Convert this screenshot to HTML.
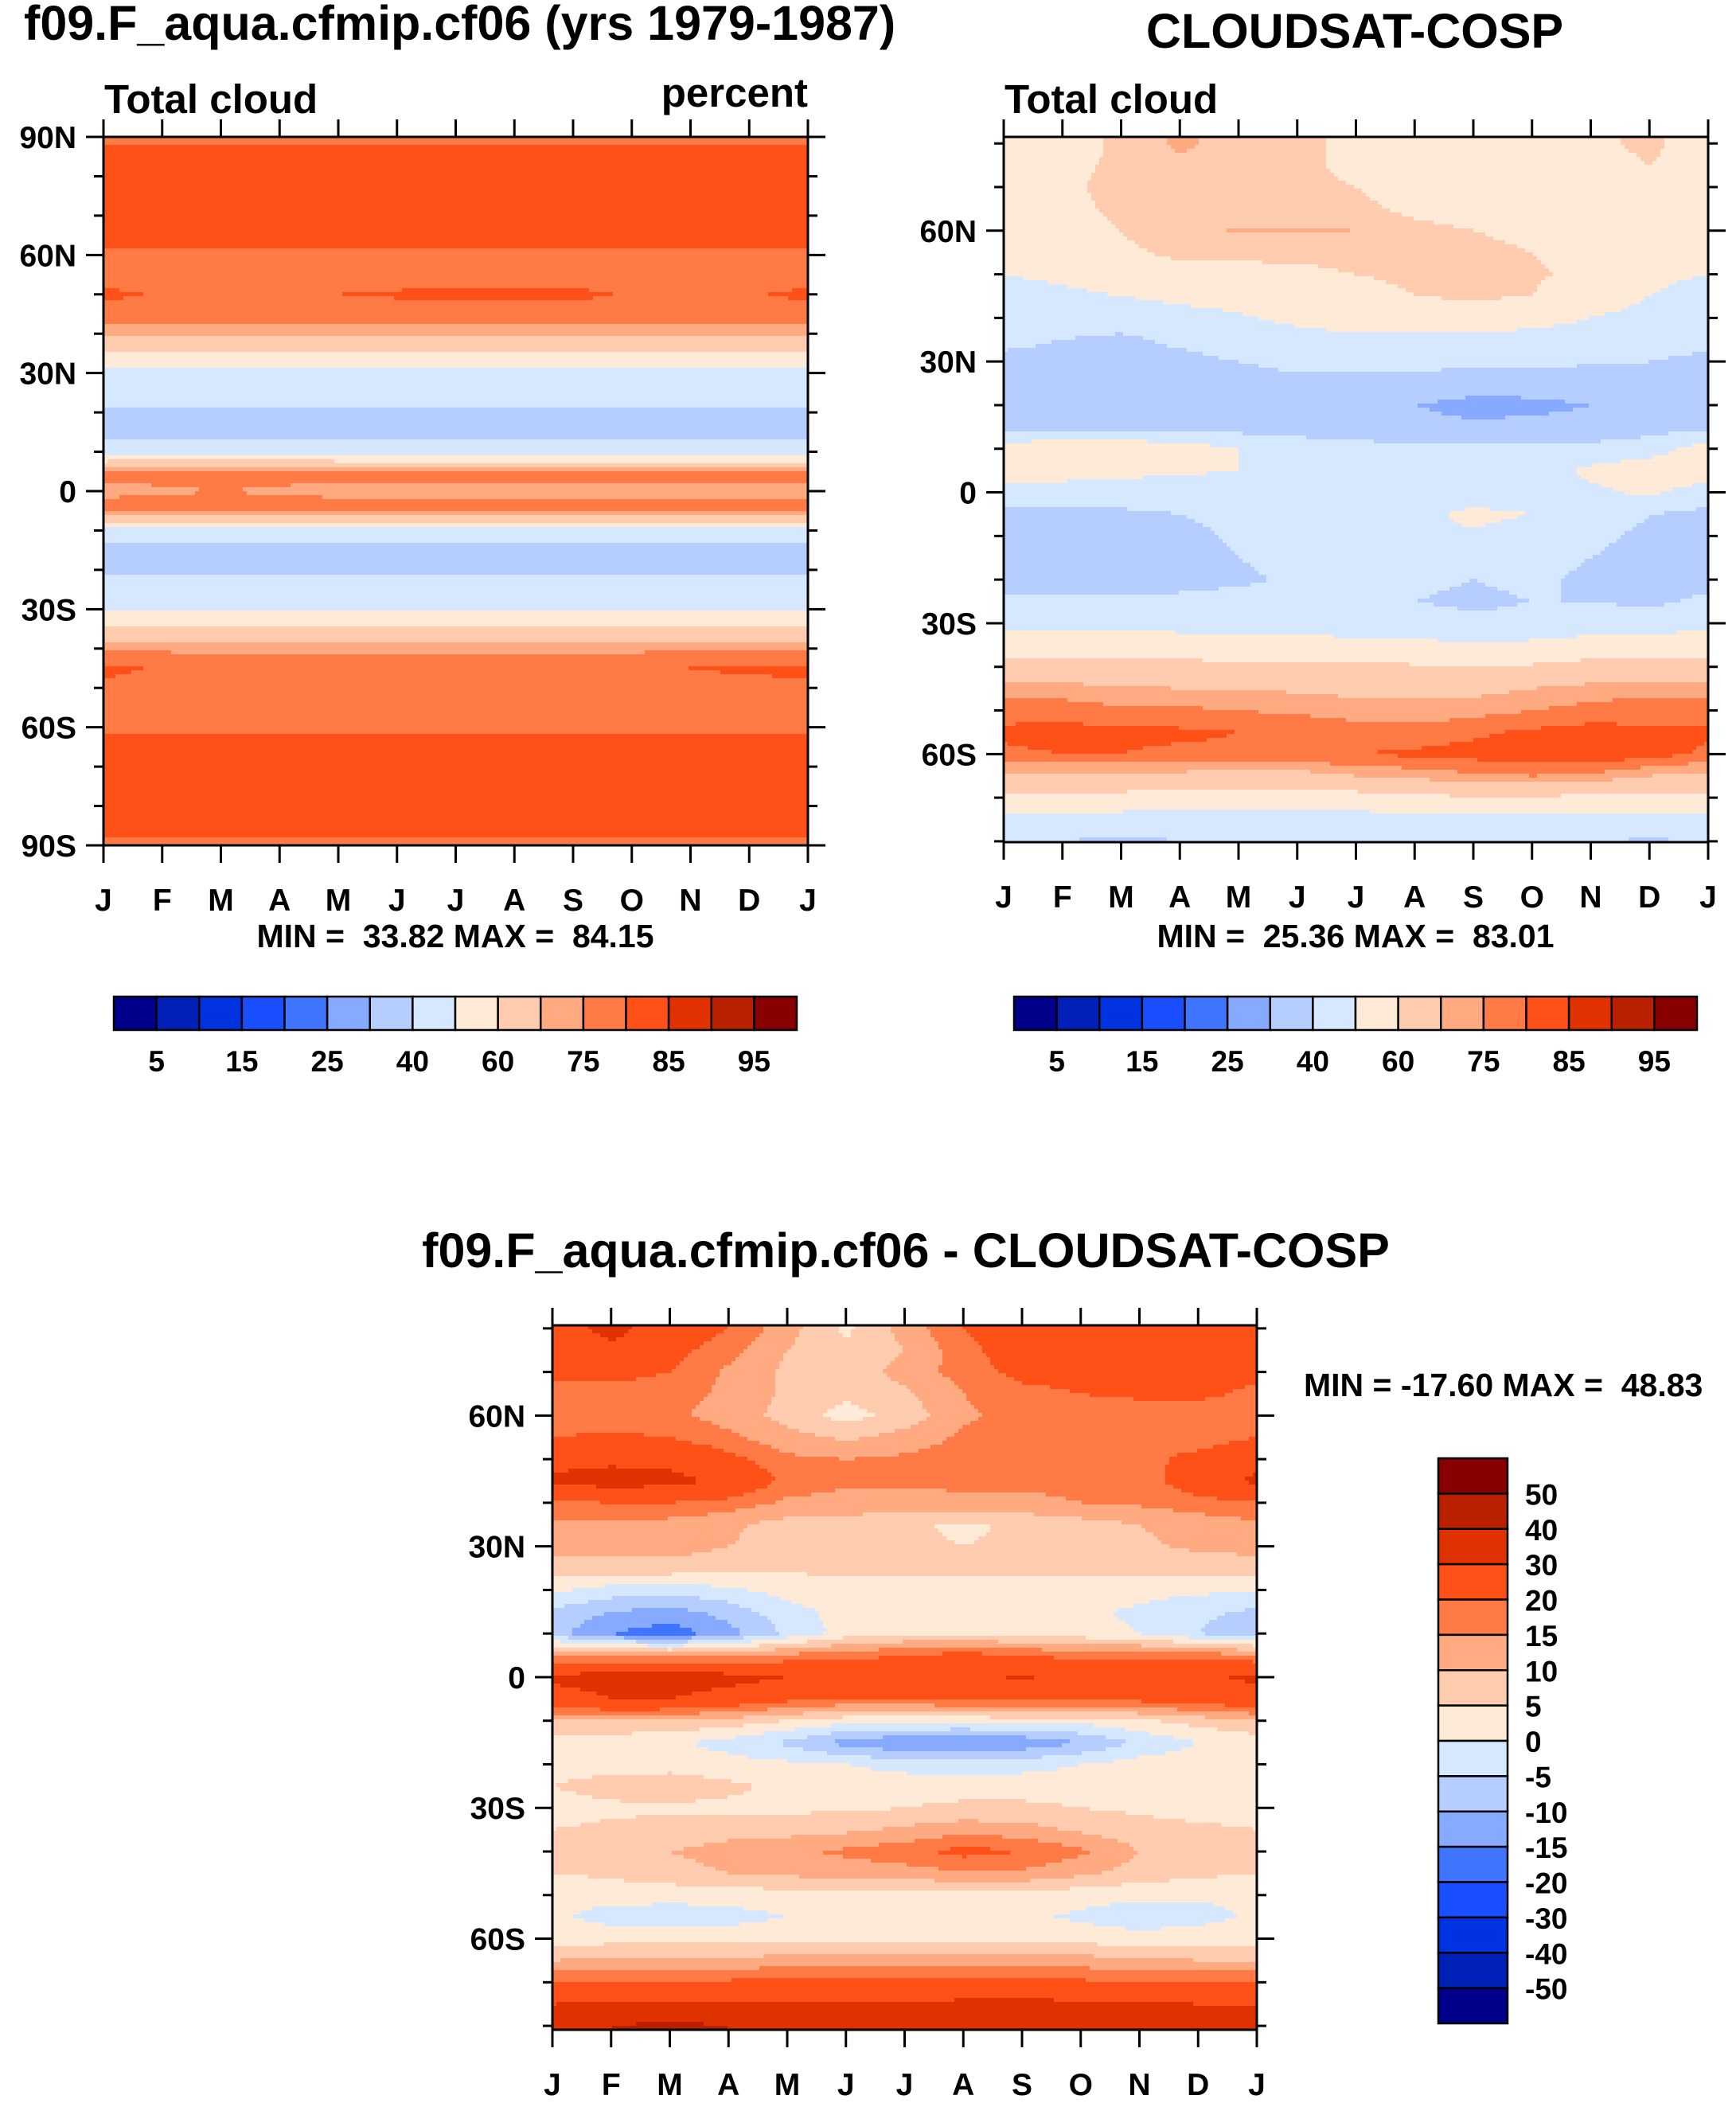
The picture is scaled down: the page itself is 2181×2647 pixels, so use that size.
<!DOCTYPE html>
<html><head><meta charset="utf-8"><style>
html,body{margin:0;padding:0;background:#fff;}
svg{display:block;font-family:"Liberation Sans",Arial,sans-serif;font-weight:bold;}
text{white-space:pre;}
</style></head><body>
<svg id="fig" xmlns="http://www.w3.org/2000/svg" width="2181" height="2647" viewBox="0 0 2181 2647">
<rect width="2181" height="2647" fill="#fff"/>
<text x="30" y="50" font-size="61">f09.F_aqua.cfmip.cf06 (yrs 1979-1987)</text>
<text x="1702" y="60" font-size="61" text-anchor="middle">CLOUDSAT-COSP</text>
<text x="1138" y="1592" font-size="61" text-anchor="middle">f09.F_aqua.cfmip.cf06 - CLOUDSAT-COSP</text>
<text x="131" y="142" font-size="51">Total cloud</text>
<text x="1015" y="134" font-size="51" text-anchor="end">percent</text>
<text x="1262" y="142" font-size="51">Total cloud</text>
<text x="572" y="1190" font-size="41" text-anchor="middle">MIN =  33.82 MAX =  84.15</text>
<text x="1703" y="1190" font-size="41" text-anchor="middle">MIN =  25.36 MAX =  83.01</text>
<text x="1638" y="1754" font-size="41">MIN = -17.60 MAX =  48.83</text>
<g id="layer"></g>
</svg>
<script>
// ---------- data ----------
const months = ['J','F','M','A','M','J','J','A','S','O','N','D','J'];
const absLevels = [5,10,15,20,25,30,40,50,60,70,75,80,85,90,95];
const absTickLabels = ['5','15','25','40','60','75','85','95'];
const diffLevels = [-50,-40,-30,-20,-15,-10,-5,0,5,10,15,20,30,40,50];
const diffTickLabels = ['50','40','30','20','15','10','5','0','-5','-10','-15','-20','-30','-40','-50'];
const palette = ['#00008B','#0020B8','#0033E0','#1A4FFF','#3F75FF','#85AAFF','#B5CEFF','#D6E8FF','#FFEAD8','#FFCCB0','#FFAA80','#FF7A45','#FF5018','#E03200','#B82000','#880000'];

// model total cloud: rows 90N..90S every 5 deg, cols J,M,M,J,S,N,J
const modelLats = [90,85,80,75,70,65,60,55,50,45,40,35,30,25,20,15,10,5,0,-5,-10,-15,-20,-25,-30,-35,-40,-45,-50,-55,-60,-65,-70,-75,-80,-85,-90];
const modelValues = [
[78,78,78,78,78,78,78],[82,82,82,82,82,82,82],[83,83,83,83,83,83,83],[83,83,83,83,83,83,83],
[83,83,83,83,83,83,83],[82,82,82,82,82,82,82],[79,79,79,79,79,79,79],[78,78,78,78,78,78,78],
[81,78,80,81,81,78,81],[78,78,78,78,78,78,78],[73,73,73,73,73,73,73],[58,58,58,58,58,58,58],
[47,47,47,47,47,47,47],[45,45,45,45,45,45,45],[38,38,38,38,38,38,38],[37,37,37,37,37,37,37],
[45,45,45,45,45,45,45],[76,77,76,76,76,76,76],[74,75,74,74,74,74,74],[77,77,77,77,77,77,77],
[45,45,45,45,45,45,45],[37,37,37,37,37,37,37],[38,38,38,38,38,38,38],[45,45,45,45,45,45,45],
[50,50,50,50,50,50,50],[62,62,62,62,62,62,62],[74,74,74,74,74,74,74],[81,78,78,78,78,80,81],
[79,79,79,79,79,79,79],[78,78,78,78,78,78,78],[79,79,79,79,79,79,79],[82,82,82,82,82,82,82],
[83,83,83,83,83,83,83],[83,83,83,83,83,83,83],[83,83,83,83,83,83,83],[82,82,82,82,82,82,82],[78,78,78,78,78,78,78]];

// CloudSat: rows 80N..80S every 5 deg, monthly cols J..J
const obsLats = [80,75,70,65,60,55,50,45,40,35,30,25,20,15,10,5,0,-5,-10,-15,-20,-25,-30,-35,-40,-45,-50,-55,-60,-65,-70,-75,-80];
const obsValues = [
[55,55,62,72,66,62,58,56,56,56,58,62,55],[55,57,62,68,64,62,58,55,55,55,56,60,55],
[55,58,63,64,63,62,60,56,56,56,55,56,55],[55,57,62,63,64,63,62,58,57,56,55,55,55],
[54,56,60,66,71,71,70,62,60,58,56,54,54],[52,55,58,62,63,62,63,62,62,60,58,53,52],
[50,52,55,56,56,58,60,61,62,61,58,52,50],[46,48,50,52,53,55,58,60,61,60,55,50,46],
[45,44,45,47,49,52,54,55,56,54,50,47,45],[42,40,38,42,46,47,48,47,47,46,45,44,42],
[38,37,36,37,40,42,43,44,43,42,41,40,38],[36,36,36,36,37,38,37,35,33,34,35,36,36],
[35,35,35,35,35,34,33,30,28,28,30,35,35],[38,37,37,37,36,35,34,32,31,32,33,36,38],
[55,58,58,55,50,46,44,42,42,42,43,45,55],[58,56,54,52,50,48,47,45,44,45,52,57,58],
[44,44,43,42,42,44,45,46,45,46,48,52,44],[38,38,39,40,42,44,45,48,52,50,46,40,38],
[37,37,37,38,41,44,46,47,49,46,42,38,37],[36,36,36,36,40,43,45,46,46,44,40,37,36],
[37,37,37,37,38,42,44,42,40,42,38,36,37],[42,42,42,42,44,45,46,40,38,40,40,38,42],
[48,48,47,47,47,47,46,45,42,43,45,45,48],[55,55,55,54,54,53,52,52,51,52,54,55,55],
[64,64,63,63,62,62,62,61,60,61,63,64,64],[72,72,71,70,70,69,68,68,68,70,72,73,72],
[78,78,76,76,75,74,73,72,73,75,77,78,78],[81,82,81,81,80,79,77,77,79,81,82,81,81],
[79,80,80,79,79,80,80,81,82,84,84,82,79],[68,68,68,68,67,67,70,72,74,75,74,70,68],
[57,57,57,56,55,55,56,58,59,59,58,57,57],[46,46,46,45,45,45,46,47,47,46,46,46,46],
[42,40,38,40,43,44,44,44,44,44,42,38,42]];

// difference: rows 80N..80S every 5 deg, monthly cols
const diffLats = obsLats.slice();
const diffValues = [
[25,33,25,20,12,4,12,20,25,25,25,25,25],[24,28,22,17,10,6,10,18,24,25,25,25,24],
[22,22,20,14,9,7,12,17,22,23,24,24,22],[18,18,17,14,9,6,9,15,18,20,21,22,18],
[17,17,16,13,8,3,7,14,17,18,17,15,17],[20,21,20,16,12,9,12,16,18,18,18,17,20],
[27,28,27,22,16,15,16,17,17,17,18,22,27],[32,34,33,28,18,16,16,16,16,16,17,24,32],
[19,20,20,18,14,13,13,14,14,15,16,18,19],[14,14,13,11,8,8,6,4,6,8,10,12,14],
[12,12,12,10,8,7,6,5,6,7,9,11,12],[7,8,8,7,6,6,6,6,6,6,7,7,7],
[1,-2,-3,-1,2,3,3,3,3,3,2,1,1],[-6,-10,-12,-8,-2,2,3,3,2,1,-1,-4,-6],
[-8,-15,-18,-12,-4,2,4,4,3,2,0,-5,-8],[15,14,13,14,16,18,20,22,20,18,18,18,15],
[32,34,35,33,30,29,26,28,31,27,27,28,32],[26,30,30,26,22,20,20,21,22,22,22,24,26],
[10,10,9,8,5,2,2,2,2,2,4,7,10],[2,2,1,-2,-6,-12,-15,-16,-14,-10,-4,0,2],
[3,3,3,2,1,0,-2,-3,-2,0,2,3,3],[5,7,8,6,4,3,3,3,3,3,4,4,5],
[3,4,4,4,4,4,5,6,6,5,4,3,3],[5,6,7,8,8,9,11,13,12,9,7,6,5],
[7,8,10,12,14,16,18,22,20,16,10,7,7],[5,6,8,10,11,12,13,14,14,11,8,6,5],
[1,2,2,2,3,3,3,3,3,2,1,1,1],[1,-2,-3,-2,0,2,2,2,1,-1,-3,-2,1],
[3,3,3,3,4,4,4,4,4,3,2,3,3],[10,11,11,11,12,12,12,12,12,12,11,10,10],
[20,21,21,21,22,22,22,22,22,21,20,20,20],[30,32,32,31,31,31,31,32,32,32,31,30,30],
[38,40,42,40,38,38,38,38,40,38,36,37,38]];

// ---------- rendering ----------
const NS='http://www.w3.org/2000/svg';
const layer=document.getElementById('layer');
function mk(tag,attrs,parent){const e=document.createElementNS(NS,tag);for(const k in attrs)e.setAttribute(k,attrs[k]);(parent||layer).appendChild(e);return e;}
function colorIndex(v,levels){let i=0;while(i<levels.length&&v>=levels[i])i++;return i;}
function sample(lats,vals,lat,fm){
  const n=lats.length;const step=lats[0]-lats[1];
  let r=(lats[0]-lat)/step; r=Math.max(0,Math.min(n-1,r));
  const nc=vals[0].length; let c=fm*(nc-1); c=Math.max(0,Math.min(nc-1,c));
  const r0=Math.min(Math.floor(r),n-2), c0=Math.min(Math.floor(c),nc-2);
  const fr=r-r0, fc=c-c0;
  const a=vals[r0][c0],b=vals[r0][c0+1],d=vals[r0+1][c0],e=vals[r0+1][c0+1];
  return (a*(1-fc)+b*fc)*(1-fr)+(d*(1-fc)+e*fc)*fr;
}
function drawField(p){
  const g=mk('g',{});
  
  
  const cs=5;
  for(let y=p.y0;y<p.y1;y+=cs){
    const h=Math.min(cs,p.y1-y);
    const lat=p.latTop-(y+h/2-p.y0)/(p.y1-p.y0)*(p.latTop-p.latBot);
    let runStart=p.x0,runCol=-1;
    for(let x=p.x0;x<=p.x1;x+=cs){
      let ci=-1;
      if(x<p.x1){const fm=(x+cs/2-p.x0)/(p.x1-p.x0);ci=colorIndex(sample(p.lats,p.vals,lat,fm),p.levels);}
      if(ci!==runCol){
        if(runCol>=0){
          const r=mk('rect',{x:runStart,y:y,width:Math.min(x,p.x1)-runStart+0.6,height:h+0.6,fill:palette[runCol]},g);
          
          
        }
        runStart=x;runCol=ci;
      }
    }
  }
}
function fmtLat(l){return l===0?'0':(Math.abs(l)+(l>0?'N':'S'));}
function drawAxes(p){
  const g=mk('g',{stroke:'#000','stroke-width':3,fill:'none'});
  
  
  const fr=mk('rect',{x:p.x0,y:p.y0,width:p.x1-p.x0,height:p.y1-p.y0},g);
  
  
  const ly=l=>p.y0+(p.latTop-l)/(p.latTop-p.latBot)*(p.y1-p.y0);
  for(let l=-90;l<=90;l+=10){
    if(l>p.latTop+0.01||l<p.latBot-0.01)continue;
    const maj=(l%30===0), len=maj?22:12, y=ly(l);
    mk('line',{x1:p.x0-len,y1:y,x2:p.x0,y2:y},g);
    mk('line',{x1:p.x1,y1:y,x2:p.x1+len,y2:y},g);
    if(maj){
      const t=mk('text',{x:p.x0-34,y:y+14,'font-size':39,'text-anchor':'end',fill:'#000',stroke:'none'});
      t.textContent=fmtLat(l);
      
      
    }
  }
  for(let i=0;i<months.length;i++){
    const x=p.x0+i*(p.x1-p.x0)/(months.length-1);
    mk('line',{x1:x,y1:p.y0-22,x2:x,y2:p.y0},g);
    mk('line',{x1:x,y1:p.y1,x2:x,y2:p.y1+22},g);
    const t=mk('text',{x:x,y:p.y1+82,'font-size':39,'text-anchor':'middle',fill:'#000',stroke:'none'});
    t.textContent=months[i];
    
    
  }
}
function hBar(x0,x1,y0,y1,name){
  const g=mk('g',{});
  
  
  const w=(x1-x0)/palette.length;
  palette.forEach((c,i)=>{
    const r=mk('rect',{x:x0+i*w,y:y0,width:w,height:y1-y0,fill:c,stroke:'#000','stroke-width':2.5},g);
    
    
  });
  absTickLabels.forEach((lab,k)=>{
    const t=mk('text',{x:x0+(2*k+1)*w,y:y1+52,'font-size':37,'text-anchor':'middle'},g);
    t.textContent=lab;
    
    
  });
}
function vBar(x0,x1,y0,y1,name){
  const g=mk('g',{});
  
  
  const h=(y1-y0)/palette.length;
  palette.slice().reverse().forEach((c,i)=>{
    const r=mk('rect',{x:x0,y:y0+i*h,width:x1-x0,height:h,fill:c,stroke:'#000','stroke-width':2.5},g);
    
    
  });
  diffTickLabels.forEach((lab,k)=>{
    const t=mk('text',{x:x1+22,y:y0+(k+1)*h+14,'font-size':37},g);
    t.textContent=lab;
    
    
  });
}
const panels=[
 {name:'model',x0:130,x1:1015,y0:172,y1:1062,latTop:90,latBot:-90,lats:modelLats,vals:modelValues,levels:absLevels},
 {name:'obs',x0:1261,x1:2146,y0:172,y1:1058,latTop:81.5,latBot:-80.2,lats:obsLats,vals:obsValues,levels:absLevels},
 {name:'diff',x0:694,x1:1579,y0:1665,y1:2550,latTop:80.7,latBot:-80.9,lats:diffLats,vals:diffValues,levels:diffLevels}
];
panels.forEach(p=>{drawField(p);drawAxes(p);});
hBar(143,1001,1252,1294,'model-colorbar');
hBar(1274,2132,1252,1294,'obs-colorbar');
vBar(1807,1894,1832,2542,'diff-colorbar');
</script>
</body></html>
